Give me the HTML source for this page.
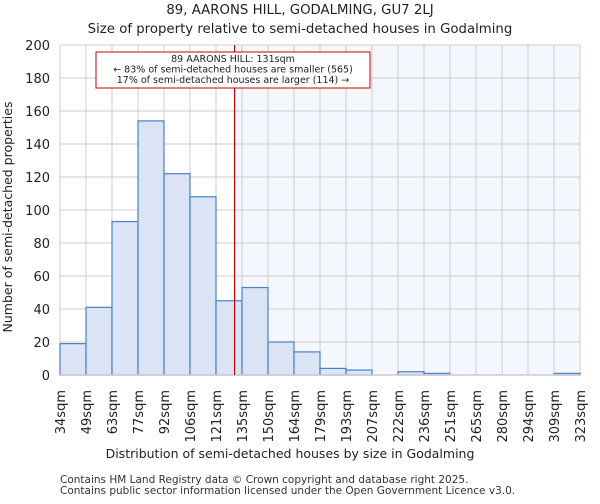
<!DOCTYPE html>
<html><head><meta charset="utf-8"><style>
body{margin:0;background:#fff;font-family:"DejaVu Sans","Liberation Sans",sans-serif;}
</style></head><body>
<svg id="c" width="600" height="500" xmlns="http://www.w3.org/2000/svg" font-family="DejaVu Sans, Liberation Sans, sans-serif">
<text x="300" y="14" text-anchor="middle" font-size="13.3" fill="#222">89, AARONS HILL, GODALMING, GU7 2LJ</text>
<text x="300" y="33" text-anchor="middle" font-size="13.3" fill="#222">Size of property relative to semi-detached houses in Godalming</text>
<g id="plot"></g>
<text x="290" y="458" text-anchor="middle" font-size="12.5" fill="#222">Distribution of semi-detached houses by size in Godalming</text>
<text transform="translate(12,217) rotate(-90)" text-anchor="middle" font-size="12.5" fill="#222">Number of semi-detached properties</text>
<text x="60" y="483" font-size="10.5" fill="#333">Contains HM Land Registry data © Crown copyright and database right 2025.</text>
<text x="60" y="494" font-size="10.5" fill="#333">Contains public sector information licensed under the Open Government Licence v3.0.</text>
</svg>
<script>
const categories=["34sqm","49sqm","63sqm","77sqm","92sqm","106sqm","121sqm","135sqm","150sqm","164sqm","179sqm","193sqm","207sqm","222sqm","236sqm","251sqm","265sqm","280sqm","294sqm","309sqm","323sqm"];
const counts=[19,41,93,154,122,108,45,53,20,14,4,3,0,2,1,0,0,0,0,1];
const yTicks=[0,20,40,60,80,100,120,140,160,180,200];
const propertyBinPos=6+10/14;
const annotation=["89 AARONS HILL: 131sqm","← 83% of semi-detached houses are smaller (565)","17% of semi-detached houses are larger (114) →"];
const NS="http://www.w3.org/2000/svg";
const L=60,R=580,T=45,B=375,nb=counts.length;
const xs=i=>L+(R-L)*i/nb;
const ys=v=>B-(B-T)*v/200;
const g=document.getElementById('plot');
function mk(t,a){const e=document.createElementNS(NS,t);for(const k in a)e.setAttribute(k,a[k]);g.appendChild(e);return e;}
let e;
e=mk('rect',{x:L,y:T,width:R-L,height:B-T,fill:'#fff'});


const lx=xs(propertyBinPos);
e=mk('rect',{x:lx,y:T,width:R-lx,height:B-T,fill:'#f4f7fd'});


for(let i=0;i<=nb;i++){e=mk('line',{x1:xs(i),x2:xs(i),y1:T,y2:B,stroke:'#ccc','stroke-width':1});

}
yTicks.forEach(v=>{e=mk('line',{x1:L,x2:R,y1:ys(v),y2:ys(v),stroke:'#ccc','stroke-width':1});


const t=mk('text',{x:L-10,y:ys(v)+5,'text-anchor':'end','font-size':13,fill:'#222'});t.textContent=v;

});
counts.forEach((v,i)=>{if(v<=0)return;e=mk('rect',{x:xs(i),y:ys(v),width:xs(i+1)-xs(i),height:B-ys(v),fill:'#dae4f4',stroke:'#4a7fcf','stroke-width':1.2});

});
e=mk('line',{x1:L,x2:R,y1:B,y2:B,stroke:'#ccc','stroke-width':1.5});


categories.forEach((c,i)=>{const x=xs(i);const t=mk('text',{transform:`translate(${x+5},390) rotate(-90)`,'text-anchor':'end','font-size':13,fill:'#222'});t.textContent=c;

});
e=mk('line',{x1:lx,x2:lx,y1:T,y2:B,stroke:'#cc0000','stroke-width':1.2});


e=mk('rect',{x:96,y:52,width:274,height:36,fill:'#fff',stroke:'#cc0000','stroke-width':1});


annotation.forEach((s,i)=>{const t=mk('text',{x:233,y:62+i*10.5,'text-anchor':'middle','font-size':9.5,fill:'#222'});t.textContent=s;

});
</script>
</body></html>
